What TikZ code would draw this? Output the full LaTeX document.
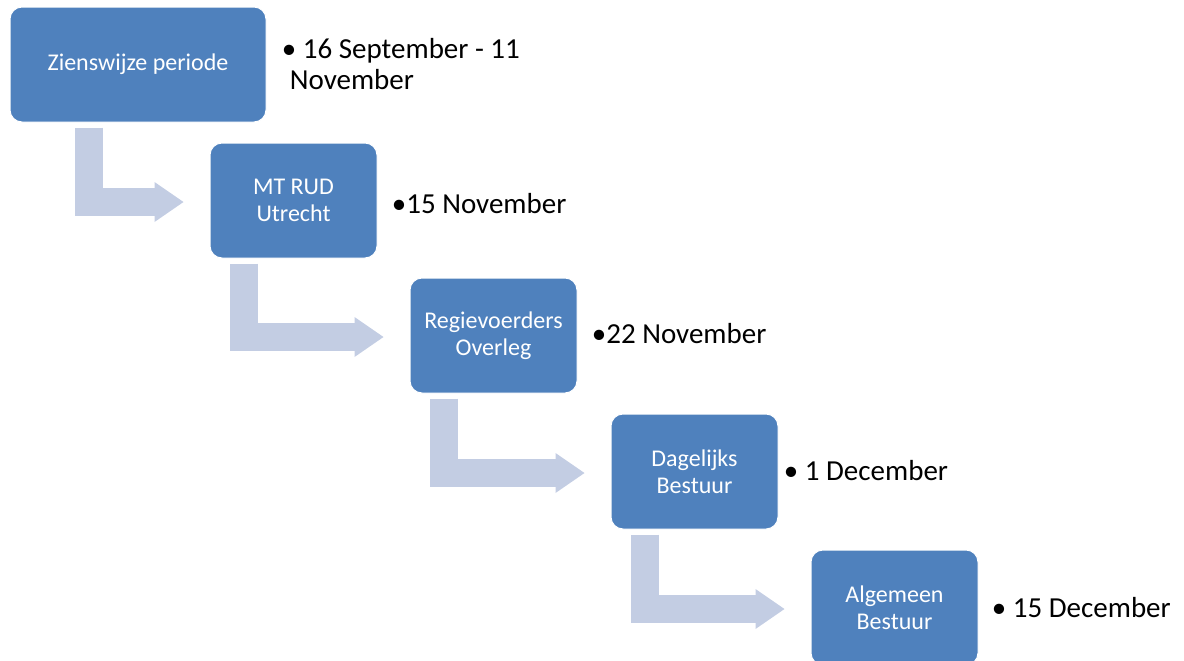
\documentclass[tikz,border=0pt]{standalone}
\usepackage{fontspec}
\setmainfont{Carlito}
\usetikzlibrary{arrows.meta}
\usetikzlibrary{calc}
\definecolor{blauw}{HTML}{4F81BD}
\definecolor{lichtblauw}{HTML}{C3CDE3}

\begin{document}
\begin{tikzpicture}[x=0.5pt,y=-0.5pt]
%stijl van de blokken
\tikzstyle{blok}=[rectangle,rounded corners=6pt,draw=white,line width=0.5pt,
fill=blauw,text=white,align=center,minimum width=83.5pt,minimum height=57.5pt,
inner sep=2pt,font=\fontsize{12}{13.5}\selectfont]
\tikzstyle{datum}=[anchor=west,align=left,inner sep=0pt,
font=\fontsize{14.5}{15.5}\selectfont]
%stijl van de pijlen
\tikzstyle{pijl}=[draw=lichtblauw,line width=14pt,
-{Triangle[length=14.5pt,width=20pt,line width=0pt]}]
\useasboundingbox (0,0) rectangle (1184,660);
%plaatsing van de blokken
\node[blok,minimum width=128pt] (zien) at (138,64.5) {Zienswijze periode};
\node[blok] (mtrud) at (293.5,200.5) {MT RUD\\Utrecht};
\node[blok] (regie) at (493.5,335.5) {Regievoerders\\Overleg};
\node[blok] (dagelijks) at (694.5,471.5) {Dagelijks\\Bestuur};
\node[blok] (algemeen) at (894.5,607.5) {Algemeen\\Bestuur};
%plaatsing van de data
\node[datum] (dzien) at ($(zien.east)+(15,0)$) {\textbullet\ 16 September - 11\\\hspace*{4pt}November};
\node[datum] (dmtrud) at ($(mtrud.east)+(14,3)$) {\textbullet15 November};
\node[datum] (dregie) at ($(regie.east)+(14,-2)$) {\textbullet22 November};
\node[datum] (ddagelijks) at ($(dagelijks.east)+(5,-1)$) {\textbullet\ 1 December};
\node[datum] (dalgemeen) at ($(algemeen.east)+(13,0)$) {\textbullet\ 15 December};
%plaatsing van de pijlen
\draw[pijl] ($(zien.south west)+(79,5)$) |- ($(mtrud.west)+(-26,1.5)$);
\draw[pijl] ($(mtrud.south west)+(34,5)$) |- ($(regie.west)+(-26,1.5)$);
\draw[pijl] ($(regie.south west)+(34,5)$) |- ($(dagelijks.west)+(-26,1.5)$);
\draw[pijl] ($(dagelijks.south west)+(34,5)$) |- ($(algemeen.west)+(-26,1.5)$);
\end{tikzpicture}
\end{document}
